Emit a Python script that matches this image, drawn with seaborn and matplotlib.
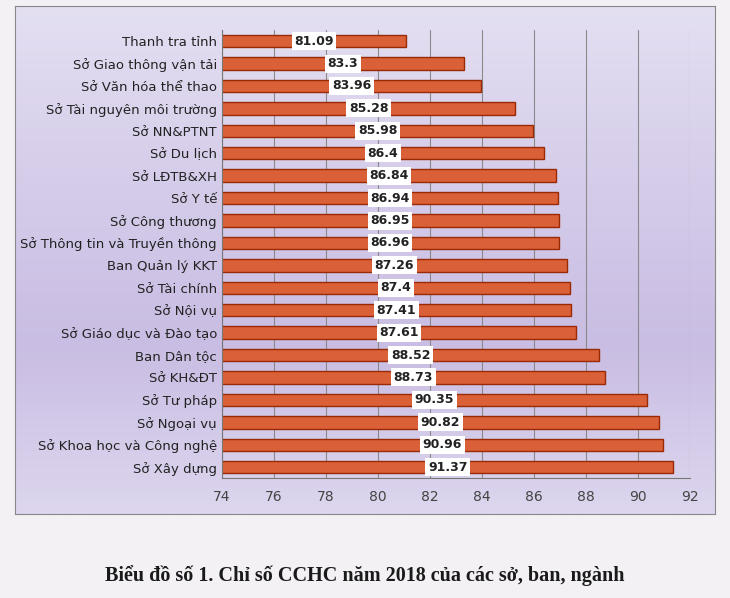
import numpy as np
import pandas as pd
import seaborn as sns
import matplotlib.pyplot as plt

# Dữ liệu
don_vi = ["Thanh tra tỉnh", "Sở Giao thông vận tải", "Sở Văn hóa thể thao",
          "Sở Tài nguyên môi trường", "Sở NN&PTNT", "Sở Du lịch", "Sở LĐTB&XH",
          "Sở Y tế", "Sở Công thương", "Sở Thông tin và Truyền thông",
          "Ban Quản lý KKT", "Sở Tài chính", "Sở Nội vụ", "Sở Giáo dục và Đào tạo",
          "Ban Dân tộc", "Sở KH&ĐT", "Sở Tư pháp", "Sở Ngoại vụ",
          "Sở Khoa học và Công nghệ", "Sở Xây dựng"]
chi_so = [81.09, 83.3, 83.96, 85.28, 85.98, 86.4, 86.84, 86.94, 86.95, 86.96,
          87.26, 87.4, 87.41, 87.61, 88.52, 88.73, 90.35, 90.82, 90.96, 91.37]
x_ticks = [74, 76, 78, 80, 82, 84, 86, 88, 90, 92]

df = pd.DataFrame({"don_vi": don_vi, "chi_so": chi_so})

sns.set_style("white")
plt.rcParams['font.family'] = ['DejaVu Sans']

fig = plt.figure(figsize=(7.30, 5.98), dpi=100)
fig.patch.set_facecolor("#f3f1f4")

# khung nền tím nhạt
bg = fig.add_axes([0.02, 0.14, 0.96, 0.85])
grad = np.linspace(0, 1, 256).reshape(-1, 1)
bg.imshow(grad, aspect="auto", cmap=plt.matplotlib.colors.LinearSegmentedColormap.from_list(
    "bg", ["#e4e0f2", "#d6cdea", "#c9bde3", "#ddd6ee"]), extent=[0, 1, 0, 1])
bg.set_xticks([]); bg.set_yticks([])
for s in bg.spines.values():
    s.set_color("#888888")

ax = fig.add_axes([0.304, 0.2, 0.641, 0.75])
ax.patch.set_alpha(0)
sns.barplot(data=df, x="chi_so", y="don_vi", orient="h", color="#f4521c",
            edgecolor="#9a2a06", linewidth=1.0, width=0.55, ax=ax)
ax.set_xlim(74, 92)
ax.set_xticks(x_ticks)
ax.grid(axis="x", color="#8a8a8a", linewidth=0.8)
ax.set_axisbelow(True)
ax.set_xlabel(""); ax.set_ylabel("")
ax.tick_params(axis="y", length=0, labelsize=9.5, colors="#222222")
ax.tick_params(axis="x", length=0, labelsize=10, colors="#444444", pad=8)
for s in ["top", "right"]:
    ax.spines[s].set_visible(False)
ax.spines["left"].set_color("#777777")
ax.spines["bottom"].set_color("#777777")

for i, v in enumerate(chi_so):
    ax.text((74 + v) / 2, i, f"{v:g}", ha="center", va="center", fontsize=9,
            fontweight="bold", color="#222222",
            bbox=dict(boxstyle="square,pad=0.2", fc="white", ec="none"))

fig.text(0.5, 0.038, "Biểu đồ số 1. Chỉ số CCHC năm 2018 của các sở, ban, ngành",
         ha="center", va="center", fontsize=14.5, fontweight="bold",
         family=["Liberation Serif", "DejaVu Serif"], color="#1a1a1a")

fig.savefig("out.png", dpi=100, facecolor=fig.get_facecolor())
